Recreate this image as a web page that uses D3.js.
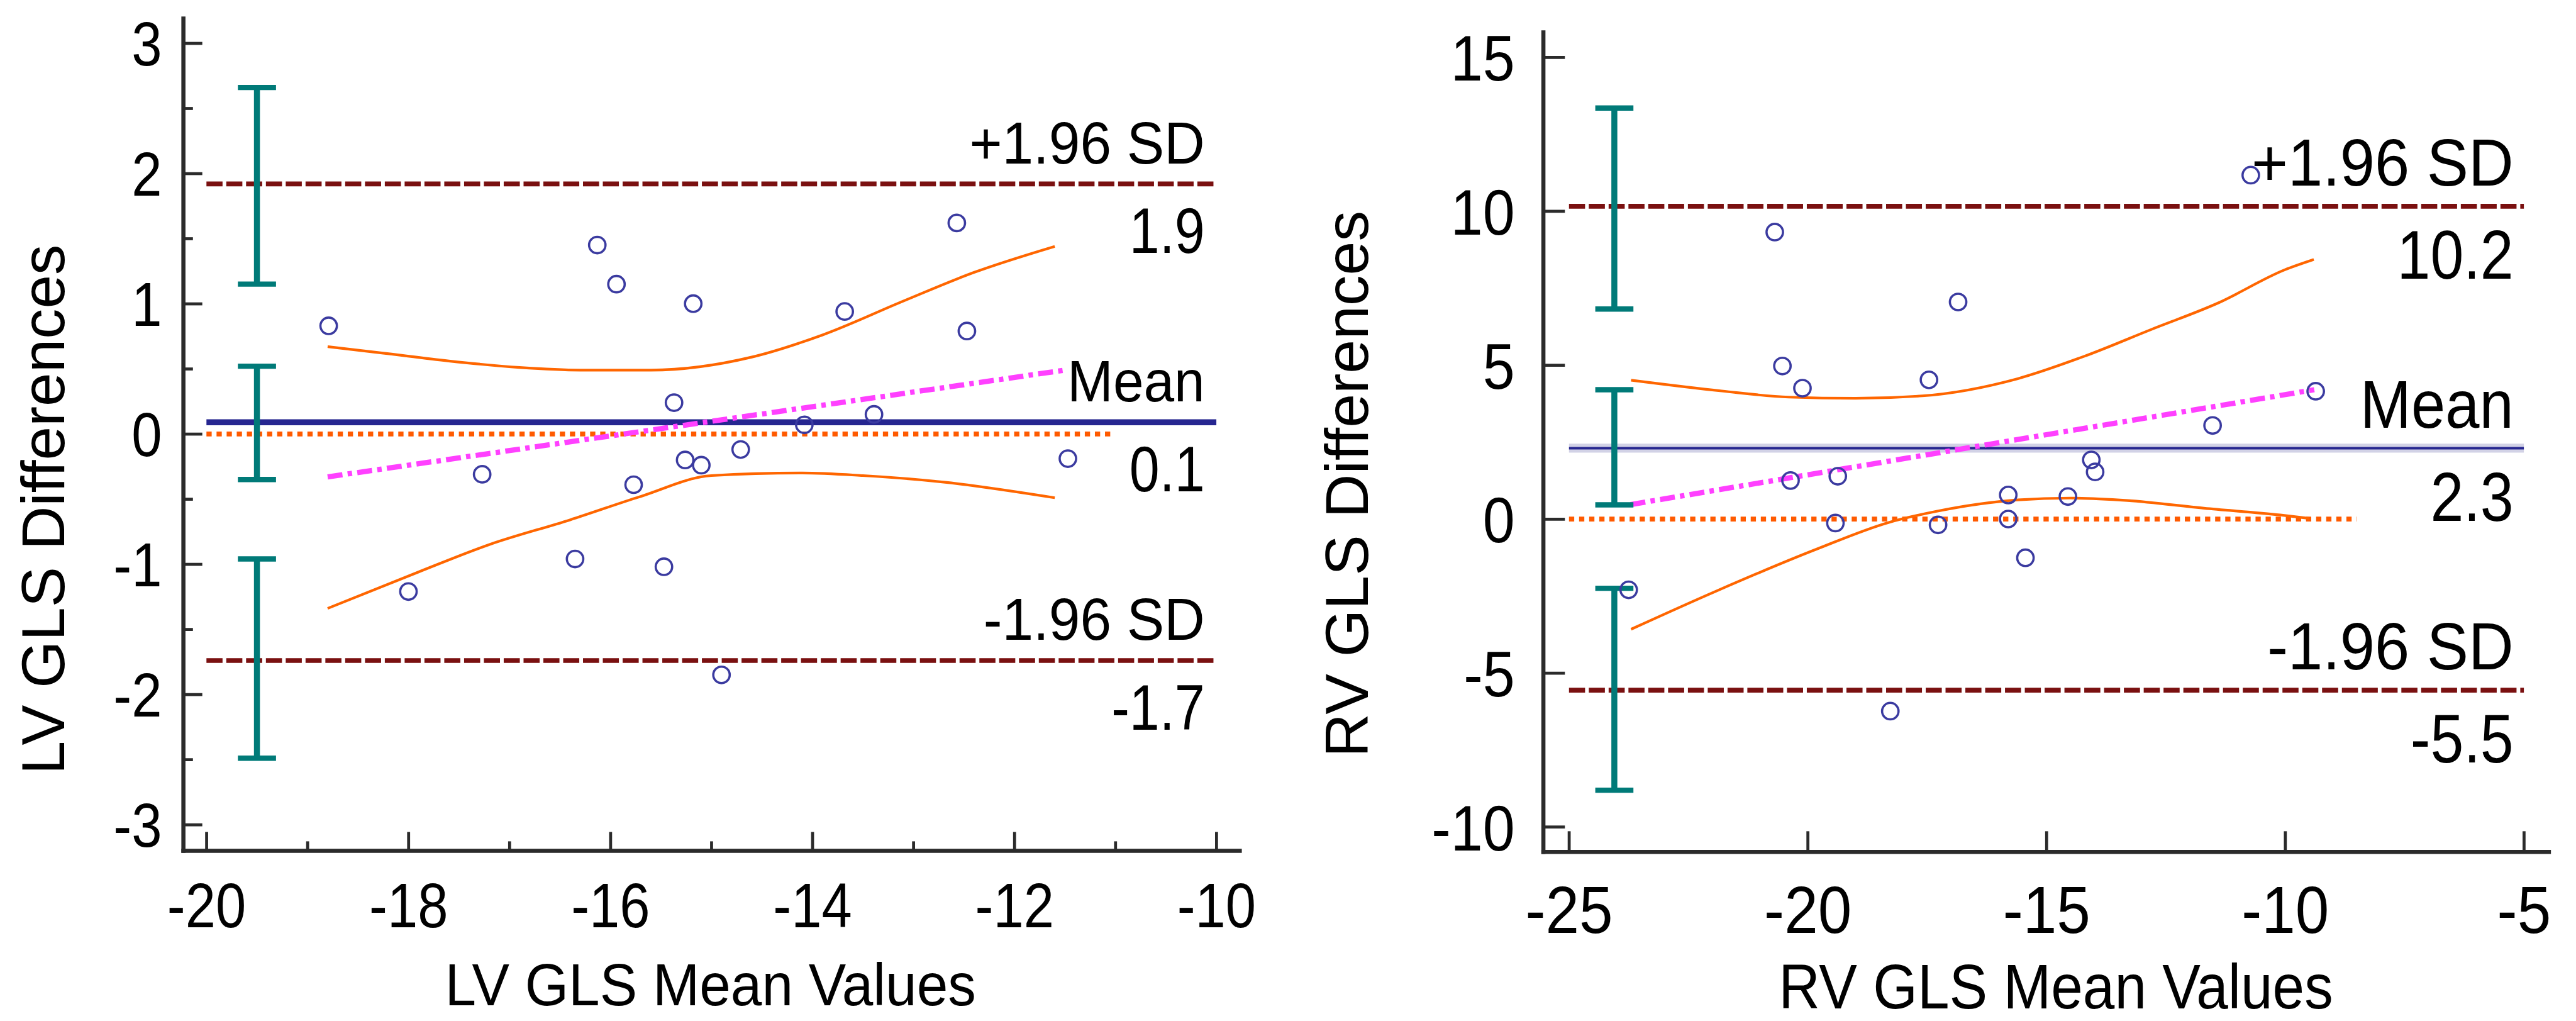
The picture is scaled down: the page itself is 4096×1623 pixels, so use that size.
<!DOCTYPE html>
<meta charset="utf-8">
<style>
body { margin: 0; background: #fff; }
text { font-family: "Liberation Sans", Arial, sans-serif; fill: #000; }
</style>
<svg width="4096" height="1623" viewBox="0 0 6889 2729"></svg>
<script src="https://cdn.jsdelivr.net/npm/d3@7"></script>
<script>
// ---- LV GLS data ----
var lvMean = [-18.79, -18.0, -17.27, -16.35, -16.13, -15.94, -15.77, -15.47, -15.37, -15.26,
              -15.18, -15.10, -14.90, -14.71, -14.08, -13.68, -13.39, -12.57, -12.47, -11.47];
var lvDiff = [0.83, -1.21, -0.31, -0.96, 1.45, 1.15, -0.39, -1.02, 0.24, -0.20,
              1.00, -0.24, -1.85, -0.12, 0.07, 0.94, 0.15, 1.62, 0.79, -0.19];
var lvLimits = [1.92, 0.09, -1.74];            // +1.96 SD, mean, -1.96 SD
var lvLimitText = ["1.9", "0.1", "-1.7"];
var lvLimitCI = [[1.15, 2.66], [-0.35, 0.52], [-2.49, -0.96]];
var lvRegX = [-18.8, -11.5], lvRegY = [-0.33, 0.49];
var lvUpX = [-18.8, -18.25, -17.6, -16.9, -16.3, -15.6, -14.6, -13.9, -13.1, -12.4, -11.6];
var lvUpY = [0.67, 0.62, 0.56, 0.51, 0.49, 0.49, 0.59, 0.76, 1.02, 1.24, 1.44];
var lvLoX = [-18.8, -17.9, -17.2, -16.4, -15.7, -15.0, -14.1, -13.5, -12.7, -11.6];
var lvLoY = [-1.34, -1.06, -0.85, -0.66, -0.48, -0.32, -0.30, -0.32, -0.37, -0.49];
var lvXTicks = [-20, -18, -16, -14, -12, -10], lvXMinor = [-19, -17, -15, -13, -11];
var lvYTicks = [-3, -2, -1, 0, 1, 2, 3], lvYMinor = [-2.5, -1.5, -0.5, 0.5, 1.5, 2.5];

// ---- RV GLS data ----
var rvMean = [-23.75, -20.69, -20.53, -20.36, -20.11, -19.42, -19.37, -18.27, -17.46, -17.27,
              -16.85, -15.80, -15.80, -15.44, -14.55, -14.06, -13.98, -11.52, -10.72, -9.36];
var rvDiff = [-2.30, 9.32, 4.97, 1.25, 4.25, -0.13, 1.39, -6.24, 4.52, -0.19,
              7.05, 0.78, 0.00, -1.26, 0.73, 1.92, 1.53, 3.04, 11.17, 4.15];
var rvLimits = [10.16, 2.30, -5.56];
var rvLimitText = ["10.2", "2.3", "-5.5"];
var rvLimitCI = [[6.82, 13.35], [0.46, 4.2], [-8.81, -2.25]];
var rvRegX = [-23.71, -9.39], rvRegY = [0.47, 4.2];
var rvUpX = [-23.7, -21.8, -20.4, -19.0, -17.6, -15.6, -14.2, -12.8, -11.4, -10.0, -9.4];
var rvUpY = [4.51, 4.16, 3.96, 3.92, 4.0, 4.56, 5.29, 6.16, 7.02, 8.1, 8.43];
var rvLoX = [-23.7, -21.9, -19.8, -18.3, -17.3, -15.6, -14.5, -13.3, -11.7, -10.1, -9.5];
var rvLoY = [-3.58, -2.33, -0.97, -0.11, 0.25, 0.62, 0.68, 0.6, 0.35, 0.13, 0.02];
var rvXTicks = [-25, -20, -15, -10, -5];
var rvYTicks = [-10, -5, 0, 5, 10, 15];

var svg = d3.select("svg");
var axisColor = "#2b2b2b";

// layout per panel, in reference pixels (viewBox scales to the window)
var panels = [
  { mean: lvMean, diff: lvDiff, lim: lvLimits, limText: lvLimitText, ci: lvLimitCI,
    regX: lvRegX, regY: lvRegY, upX: lvUpX, upY: lvUpY, loX: lvLoX, loY: lvLoY,
    xTicks: lvXTicks, xMinor: lvXMinor, yTicks: lvYTicks, yMinor: lvYMinor,
    xTitle: "LV GLS Mean Values", yTitle: "LV GLS Differences",
    xDom: [-20.23, -9.77], xRng: [490, 3315], yDom: [-3.2, 3.19], yRng: [2274, 49],
    lineX: [-20, -10], zeroX: [-20, -11.05], barX: -19.5,
    xTickLen: 50, yTickLen: 51, minorLen: 25,
    yLab: { dx: -57, dy: 59, f: 146, sy: 1.13 }, xLab: { y: 2479, f: 146, sy: 1.15 },
    xT: { x: 1900, y: 2688, f: 150, sy: 1.07 }, yT: { x: 172, y: 1362, f: 162 },
    labX: 3222, sd: { f: 150, sy: 1.05 }, mn: { f: 147, sy: 1.07 }, val: { f: 145, sy: 1.18 },
    above: 55, below: 185, meanW: 16, halo: false },
  { mean: rvMean, diff: rvDiff, lim: rvLimits, limText: rvLimitText, ci: rvLimitCI,
    regX: rvRegX, regY: rvRegY, upX: rvUpX, upY: rvUpY, loX: rvLoX, loY: rvLoY,
    xTicks: rvXTicks, xMinor: [], yTicks: rvYTicks, yMinor: [],
    xTitle: "RV GLS Mean Values", yTitle: "RV GLS Differences",
    xDom: [-25.54, -4.48], xRng: [4127, 6816], yDom: [-10.81, 15.81], yRng: [2277, 86],
    lineX: [-25, -5], zeroX: [-25, -8.5], barX: -24.05,
    xTickLen: 55, yTickLen: 58, minorLen: 0,
    yLab: { dx: -76, dy: 62, f: 154, sy: 1.12 }, xLab: { y: 2494, f: 162, sy: 1.1 },
    xT: { x: 5498, y: 2695, f: 153, sy: 1.1 }, yT: { x: 3658, y: 1294, f: 163 },
    labX: 6722, sd: { f: 167, sy: 1.07 }, mn: { f: 164, sy: 1.1 }, val: { f: 160, sy: 1.15 },
    above: 55, below: 194, meanW: 7, halo: true }
];

panels.forEach(function(p) {
  var x = d3.scaleLinear().domain(p.xDom).range(p.xRng);
  var y = d3.scaleLinear().domain(p.yDom).range(p.yRng);
  var g = svg.append("g");

  function hline(v, x0, x1) {
    return g.append("line").attr("x1", x(x0)).attr("x2", x(x1)).attr("y1", y(v)).attr("y2", y(v));
  }

  // limits of agreement (dashed)
  [p.lim[0], p.lim[2]].forEach(function(v) {
    hline(v, p.lineX[0], p.lineX[1])
      .attr("stroke", "#7a1010").attr("stroke-width", 13).attr("stroke-dasharray", "43 10");
  });

  // zero line (dotted)
  hline(0, p.zeroX[0], p.zeroX[1])
    .attr("stroke", "#ff5a00").attr("stroke-width", 13).attr("stroke-dasharray", "14 13");

  // mean line
  if (p.halo) {
    hline(p.lim[1], p.lineX[0], p.lineX[1]).attr("stroke", "#d2d2e6").attr("stroke-width", 24);
  }
  hline(p.lim[1], p.lineX[0], p.lineX[1]).attr("stroke", "#262690").attr("stroke-width", p.meanW);

  // regression line (dash-dot)
  var line = d3.line().x(function(d) { return x(d[0]); }).y(function(d) { return y(d[1]); });
  g.append("path")
    .attr("d", line(d3.zip(p.regX, p.regY)))
    .attr("fill", "none").attr("stroke", "#ff40ff").attr("stroke-width", 14)
    .attr("stroke-dasharray", "40 14 12 14");

  // confidence curves
  var curve = line.curve(d3.curveMonotoneX);
  [[p.upX, p.upY], [p.loX, p.loY]].forEach(function(c) {
    g.append("path")
      .attr("d", curve(d3.zip(c[0], c[1])))
      .attr("fill", "none").attr("stroke", "#ff6600").attr("stroke-width", 7);
  });

  // CI error bars for the limits
  var bx = x(p.barX);
  p.ci.forEach(function(c) {
    var eb = g.append("g").attr("stroke", "#007a78");
    eb.append("line").attr("x1", bx).attr("x2", bx).attr("y1", y(c[0])).attr("y2", y(c[1]))
      .attr("stroke-width", 16);
    c.forEach(function(v) {
      eb.append("line").attr("x1", bx - 51).attr("x2", bx + 51).attr("y1", y(v)).attr("y2", y(v))
        .attr("stroke-width", 14);
    });
  });

  // points
  g.selectAll("circle.pt")
    .data(d3.zip(p.mean, p.diff))
    .enter().append("circle")
      .attr("class", "pt")
      .attr("cx", function(d) { return x(d[0]); })
      .attr("cy", function(d) { return y(d[1]); })
      .attr("r", 22)
      .attr("fill", "none").attr("stroke", "#3b3ba0").attr("stroke-width", 6);

  // axes, ticks pointing inward
  var fmt = function(d) { return String(d); };
  var yAx = g.append("g").attr("transform", "translate(" + p.xRng[0] + ",0)")
    .call(d3.axisLeft(y).tickValues(p.yTicks).tickSizeInner(-p.yTickLen).tickSizeOuter(0).tickFormat(fmt));
  var xAx = g.append("g").attr("transform", "translate(0," + p.yRng[0] + ")")
    .call(d3.axisBottom(x).tickValues(p.xTicks).tickSizeInner(-p.xTickLen).tickSizeOuter(0).tickFormat(fmt));
  if (p.yMinor.length) {
    g.append("g").attr("transform", "translate(" + p.xRng[0] + ",0)")
      .call(d3.axisLeft(y).tickValues(p.yMinor).tickSizeInner(-p.minorLen - 1).tickSizeOuter(0).tickFormat(""))
      .call(function(s) { s.select(".domain").remove(); });
    g.append("g").attr("transform", "translate(0," + p.yRng[0] + ")")
      .call(d3.axisBottom(x).tickValues(p.xMinor).tickSizeInner(-p.minorLen).tickSizeOuter(0).tickFormat(""))
      .call(function(s) { s.select(".domain").remove(); });
  }
  g.selectAll(".domain").attr("stroke", axisColor).attr("stroke-width", 11).attr("stroke-linecap", "square");
  g.selectAll(".tick line").attr("stroke", axisColor).attr("stroke-width", 8);

  yAx.selectAll("text")
    .attr("x", null).attr("dy", null).attr("fill", "#000")
    .attr("text-anchor", "end")
    .style("font-size", p.yLab.f + "px")
    .attr("transform", "translate(" + p.yLab.dx + "," + p.yLab.dy + ") scale(1," + p.yLab.sy + ")");
  xAx.selectAll("text")
    .attr("y", null).attr("dy", null).attr("fill", "#000")
    .attr("text-anchor", "middle")
    .style("font-size", p.xLab.f + "px")
    .attr("transform", "translate(0," + (p.xLab.y - p.yRng[0]) + ") scale(1," + p.xLab.sy + ")");

  // axis titles
  g.append("text")
    .attr("text-anchor", "middle")
    .style("font-size", p.xT.f + "px")
    .attr("transform", "translate(" + p.xT.x + "," + p.xT.y + ") scale(1," + p.xT.sy + ")")
    .text(p.xTitle);
  g.append("text")
    .attr("text-anchor", "middle")
    .style("font-size", p.yT.f + "px")
    .attr("transform", "translate(" + p.yT.x + "," + p.yT.y + ") rotate(-90)")
    .text(p.yTitle);

  // line labels
  var names = ["+1.96 SD", "Mean", "-1.96 SD"];
  p.lim.forEach(function(v, i) {
    var st = i === 1 ? p.mn : p.sd;
    g.append("text")
      .attr("text-anchor", "end")
      .style("font-size", st.f + "px")
      .attr("transform", "translate(" + p.labX + "," + (y(v) - p.above) + ") scale(1," + st.sy + ")")
      .text(names[i]);
    g.append("text")
      .attr("text-anchor", "end")
      .style("font-size", p.val.f + "px")
      .attr("transform", "translate(" + p.labX + "," + (y(v) + p.below) + ") scale(1," + p.val.sy + ")")
      .text(p.limText[i]);
  });
});
</script>
